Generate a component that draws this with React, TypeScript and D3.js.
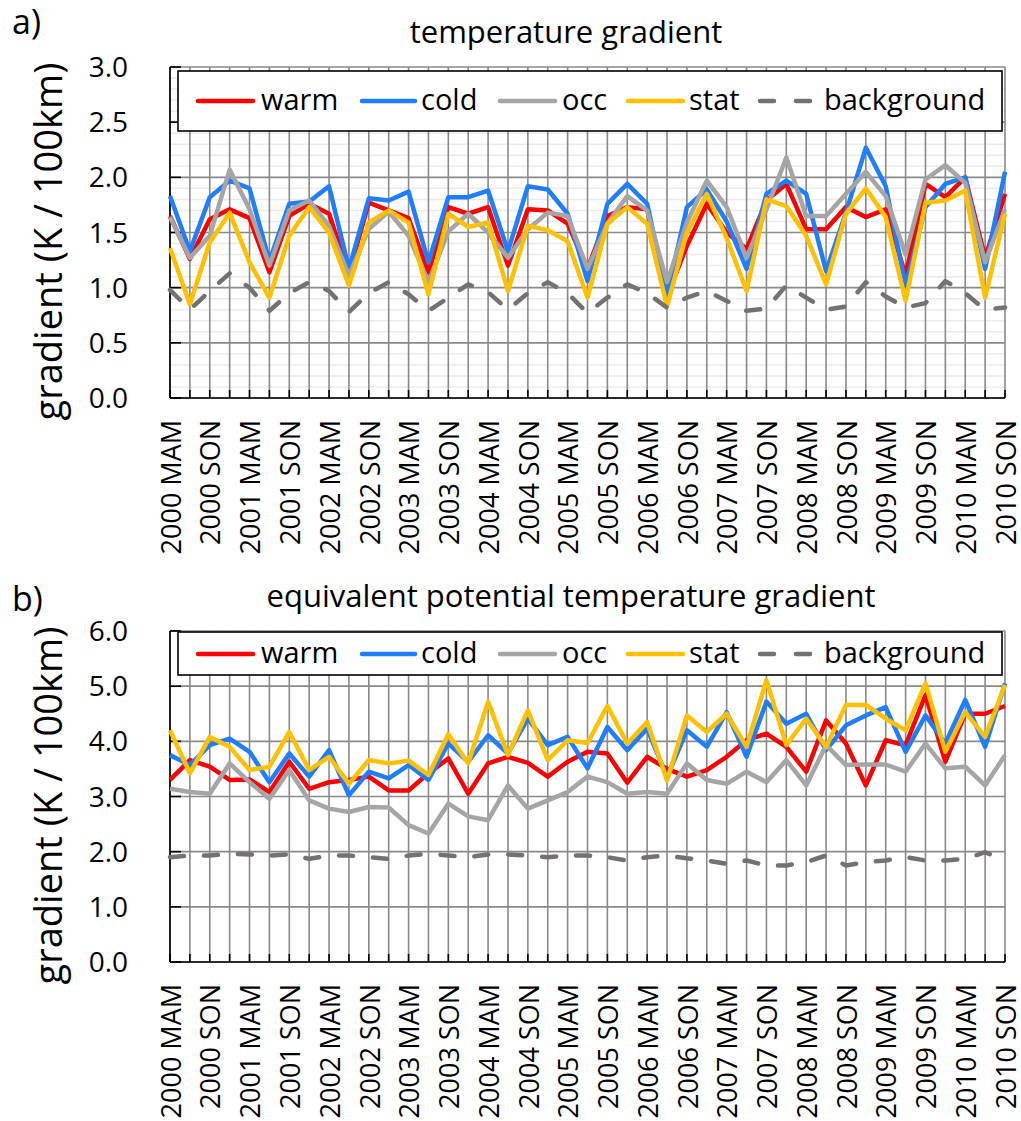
import React from "react";
import * as d3 from "d3";

// Seasons from 2000 MAM through 2010 SON
const years = [2000, 2001, 2002, 2003, 2004, 2005, 2006, 2007, 2008, 2009, 2010];
const seasons = ["MAM", "JJA", "SON", "DJF"];
const categories = years.flatMap((yr) => seasons.map((s) => `${yr} ${s}`)).slice(0, 43);
const tickLabels = categories.filter((c) => c.endsWith("MAM") || c.endsWith("SON"));

const seriesNames = ["warm", "cold", "occ", "stat", "background"];

// a) temperature gradient (K / 100km)
const tWarm = [1.65, 1.26, 1.62, 1.71, 1.63, 1.14, 1.65, 1.76, 1.67, 1.13, 1.77, 1.70, 1.63, 1.14, 1.73,
  1.67, 1.73, 1.20, 1.71, 1.70, 1.58, 1.17, 1.65, 1.73, 1.71, 0.92, 1.38, 1.76, 1.50, 1.35,
  1.79, 1.94, 1.53, 1.53, 1.73, 1.64, 1.71, 1.11, 1.94, 1.82, 2.00, 1.27, 1.85];
const tCold = [1.83, 1.33, 1.82, 1.97, 1.90, 1.24, 1.76, 1.78, 1.92, 1.17, 1.81, 1.79, 1.87, 1.23, 1.82,
  1.82, 1.88, 1.33, 1.92, 1.89, 1.67, 1.06, 1.76, 1.94, 1.76, 0.93, 1.73, 1.89, 1.60, 1.17,
  1.85, 1.97, 1.85, 1.15, 1.68, 2.27, 1.92, 1.02, 1.73, 1.94, 2.00, 1.17, 2.05];
const tOcc = [1.64, 1.27, 1.47, 2.07, 1.71, 1.20, 1.70, 1.79, 1.56, 1.11, 1.53, 1.69, 1.47, 1.05, 1.51,
  1.67, 1.50, 1.27, 1.53, 1.68, 1.65, 1.17, 1.58, 1.83, 1.70, 1.05, 1.59, 1.97, 1.73, 1.27,
  1.71, 2.18, 1.65, 1.65, 1.85, 2.05, 1.83, 1.30, 1.98, 2.11, 1.95, 1.23, 1.71];
const tStat = [1.36, 0.85, 1.41, 1.68, 1.23, 0.91, 1.47, 1.73, 1.50, 1.02, 1.59, 1.70, 1.59, 0.94, 1.67,
  1.55, 1.59, 0.97, 1.56, 1.52, 1.42, 0.91, 1.58, 1.73, 1.58, 0.83, 1.50, 1.85, 1.45, 0.97,
  1.80, 1.74, 1.47, 1.03, 1.67, 1.90, 1.64, 0.88, 1.77, 1.79, 1.88, 0.91, 1.67];
const tBackground = [0.98, 0.80, 0.97, 1.13, 1.00, 0.79, 0.95, 1.05, 0.97, 0.78, 0.95, 1.05, 0.94, 0.79, 0.91,
  1.03, 0.96, 0.80, 0.95, 1.05, 0.95, 0.77, 0.91, 1.03, 0.95, 0.82, 0.91, 0.97, 0.88, 0.79,
  0.81, 1.02, 0.91, 0.80, 0.83, 1.05, 0.92, 0.82, 0.86, 1.06, 0.95, 0.80, 0.82];

// b) equivalent potential temperature gradient (K / 100km)
const eWarm = [3.30, 3.66, 3.54, 3.30, 3.31, 3.08, 3.63, 3.14, 3.26, 3.30, 3.36, 3.11, 3.11, 3.42, 3.69,
  3.05, 3.60, 3.72, 3.61, 3.36, 3.63, 3.81, 3.78, 3.25, 3.72, 3.50, 3.36, 3.48, 3.72, 4.02,
  4.14, 3.90, 3.45, 4.38, 3.96, 3.20, 4.02, 3.93, 4.84, 3.63, 4.50, 4.50, 4.64];
const eCold = [3.75, 3.57, 3.93, 4.05, 3.81, 3.26, 3.78, 3.36, 3.84, 3.02, 3.45, 3.33, 3.57, 3.30, 3.96,
  3.63, 4.11, 3.78, 4.41, 3.93, 4.08, 3.51, 4.26, 3.84, 4.23, 3.35, 4.20, 3.90, 4.53, 3.72,
  4.72, 4.32, 4.50, 3.84, 4.29, 4.47, 4.62, 3.81, 4.47, 3.96, 4.75, 3.90, 5.05];
const eOcc = [3.14, 3.08, 3.05, 3.60, 3.26, 2.96, 3.48, 2.93, 2.78, 2.72, 2.81, 2.80, 2.48, 2.33, 2.87,
  2.64, 2.57, 3.20, 2.78, 2.93, 3.08, 3.36, 3.26, 3.05, 3.08, 3.05, 3.60, 3.30, 3.23, 3.45,
  3.26, 3.66, 3.20, 3.93, 3.57, 3.58, 3.58, 3.45, 3.96, 3.51, 3.54, 3.20, 3.75];
const eStat = [4.20, 3.42, 4.08, 3.90, 3.48, 3.54, 4.17, 3.48, 3.72, 3.23, 3.66, 3.60, 3.65, 3.39, 4.13,
  3.60, 4.72, 3.75, 4.56, 3.66, 4.02, 3.97, 4.64, 3.96, 4.35, 3.29, 4.47, 4.17, 4.50, 3.90,
  5.11, 3.93, 4.41, 3.90, 4.66, 4.66, 4.41, 4.20, 5.05, 3.81, 4.53, 4.08, 5.02];
const eBackground = [1.90, 1.93, 1.93, 1.96, 1.95, 1.93, 1.95, 1.87, 1.93, 1.93, 1.90, 1.87, 1.93, 1.96, 1.93,
  1.90, 1.95, 1.95, 1.93, 1.90, 1.93, 1.93, 1.90, 1.84, 1.90, 1.93, 1.88, 1.84, 1.78, 1.84,
  1.75, 1.75, 1.81, 1.93, 1.75, 1.81, 1.84, 1.90, 1.84, 1.84, 1.87, 1.99, 1.84];

const colors: Record<string, string> = {
  warm: "#FF0000",
  cold: "#1F7EFF",
  occ: "#A5A5A5",
  stat: "#FFC000",
  background: "#767171",
};

const FONT = "'Open Sans', 'Noto Sans', sans-serif";
const X0 = 170;
const X1 = 1005;
const DASH = "14 20";

type PanelProps = {
  letter: string;
  letterY: number;
  title: string;
  titleX: number;
  titleY: number;
  top: number;
  bottom: number;
  yMax: number;
  step: number;
  minorStep?: number;
  legendTop: number;
  legendBottom: number;
  legendBaseline: number;
  series: number[][];
};

const legendItems = [
  { name: "warm", x1: 198, x2: 253, tx: 261 },
  { name: "cold", x1: 362, x2: 415, tx: 421 },
  { name: "occ", x1: 500, x2: 555, tx: 562 },
  { name: "stat", x1: 628, x2: 683, tx: 689 },
  { name: "background", x1: 760, x2: 813, tx: 824 },
];

function Panel(p: PanelProps) {
  const x = d3.scalePoint<string>().domain(categories).range([X0, X1]);
  const y = d3.scaleLinear().domain([0, p.yMax]).range([p.bottom, p.top]);
  const majors = d3.range(0, p.yMax + 1e-9, p.step);
  const minors = p.minorStep
    ? d3.range(0, p.yMax + 1e-9, p.minorStep).filter((v) => Math.abs(v / p.step - Math.round(v / p.step)) > 1e-6)
    : [];
  const line = d3
    .line<number>()
    .x((_, i) => x(categories[i]) as number)
    .y((v) => y(v));
  const fmt = d3.format(".1f");
  const midY = (p.top + p.bottom) / 2 + 9;

  return (
    <g>
      <text x={12} y={p.letterY} fontSize={34} fontFamily={FONT} fill="#000">
        {p.letter}
      </text>
      <text x={p.titleX} y={p.titleY} fontSize={31} fontFamily={FONT} textAnchor="middle" fill="#000">
        {p.title}
      </text>

      {/* minor horizontal grid */}
      {minors.map((v) => (
        <line key={"mn" + v} x1={X0} x2={X1} y1={y(v)} y2={y(v)} stroke="#ebebeb" strokeWidth={1.5} />
      ))}
      {/* vertical grid at each season */}
      {categories.map((c) => (
        <line key={"v" + c} x1={x(c)} x2={x(c)} y1={p.top} y2={p.bottom} stroke="#8a8a8a" strokeWidth={1.6} />
      ))}
      {/* major horizontal grid */}
      {majors.map((v) => (
        <line key={"mj" + v} x1={X0} x2={X1} y1={y(v)} y2={y(v)} stroke="#8a8a8a" strokeWidth={1.6} />
      ))}

      {/* axes */}
      <line x1={X0} x2={X0} y1={p.top} y2={p.bottom} stroke="#000" strokeWidth={1.6} />
      <line x1={X0} x2={X1} y1={p.bottom} y2={p.bottom} stroke="#000" strokeWidth={1.6} />
      {majors.map((v) => (
        <line key={"yt" + v} x1={X0} x2={X0 + 11} y1={y(v)} y2={y(v)} stroke="#000" strokeWidth={1.6} />
      ))}
      {categories.map((c) => (
        <line key={"xt" + c} x1={x(c)} x2={x(c)} y1={p.bottom - 8} y2={p.bottom} stroke="#000" strokeWidth={1.6} />
      ))}

      {/* y tick labels */}
      {majors.map((v) => (
        <text key={"yl" + v} x={128} y={y(v)} dy="0.36em" fontSize={28} fontFamily={FONT} textAnchor="end" fill="#000">
          {fmt(v)}
        </text>
      ))}
      {/* x tick labels */}
      {tickLabels.map((c) => (
        <text
          key={"xl" + c}
          transform={`translate(${(x(c) as number) + 1},${p.bottom + 22}) rotate(-90)`}
          dy="0.36em"
          fontSize={27}
          fontFamily={FONT}
          textAnchor="end"
          fill="#000"
        >
          {c}
        </text>
      ))}
      {/* y axis title */}
      <text
        transform={`translate(62,${midY}) rotate(-90)`}
        fontSize={38}
        fontFamily={FONT}
        textAnchor="middle"
        fill="#000"
      >
        gradient (K / 100km)
      </text>

      {/* series */}
      {seriesNames.map((name, k) => (
        <path
          key={name}
          d={line(p.series[k]) as string}
          fill="none"
          stroke={colors[name]}
          strokeWidth={4.5}
          strokeLinejoin="round"
          strokeLinecap={name === "background" ? "round" : "butt"}
          strokeDasharray={name === "background" ? DASH : undefined}
        />
      ))}

      {/* legend */}
      <rect
        x={178}
        y={p.legendTop}
        width={1002 - 178}
        height={p.legendBottom - p.legendTop}
        fill="#fff"
        stroke="#000"
        strokeWidth={1.6}
      />
      {legendItems.map((it) => {
        const cy = p.legendBaseline - 9;
        return (
          <g key={"lg" + it.name}>
            <line
              x1={it.x1}
              x2={it.x2}
              y1={cy}
              y2={cy}
              stroke={colors[it.name]}
              strokeWidth={4.5}
              strokeLinecap="round"
              strokeDasharray={it.name === "background" ? "14 22" : undefined}
            />
            <text x={it.tx} y={p.legendBaseline} fontSize={29} fontFamily={FONT} fill="#000">
              {it.name}
            </text>
          </g>
        );
      })}
    </g>
  );
}

export default function App() {
  return (
    <svg
      width={1021}
      height={1121}
      viewBox="0 0 1021 1121"
      style={{ position: "absolute", left: 0, top: 0, background: "#fff" }}
    >
      <rect x={0} y={0} width={1021} height={1121} fill="#fff" />
      <Panel
        letter="a)"
        letterY={34}
        title="temperature gradient"
        titleX={566}
        titleY={43}
        top={67}
        bottom={398}
        yMax={3}
        step={0.5}
        minorStep={0.1}
        legendTop={71}
        legendBottom={131}
        legendBaseline={110}
        series={[tWarm, tCold, tOcc, tStat, tBackground]}
      />
      <Panel
        letter="b)"
        letterY={611}
        title="equivalent potential temperature gradient"
        titleX={571}
        titleY={607}
        top={631}
        bottom={962}
        yMax={6}
        step={1}
        legendTop={632}
        legendBottom={675}
        legendBaseline={663}
        series={[eWarm, eCold, eOcc, eStat, eBackground]}
      />
    </svg>
  );
}
